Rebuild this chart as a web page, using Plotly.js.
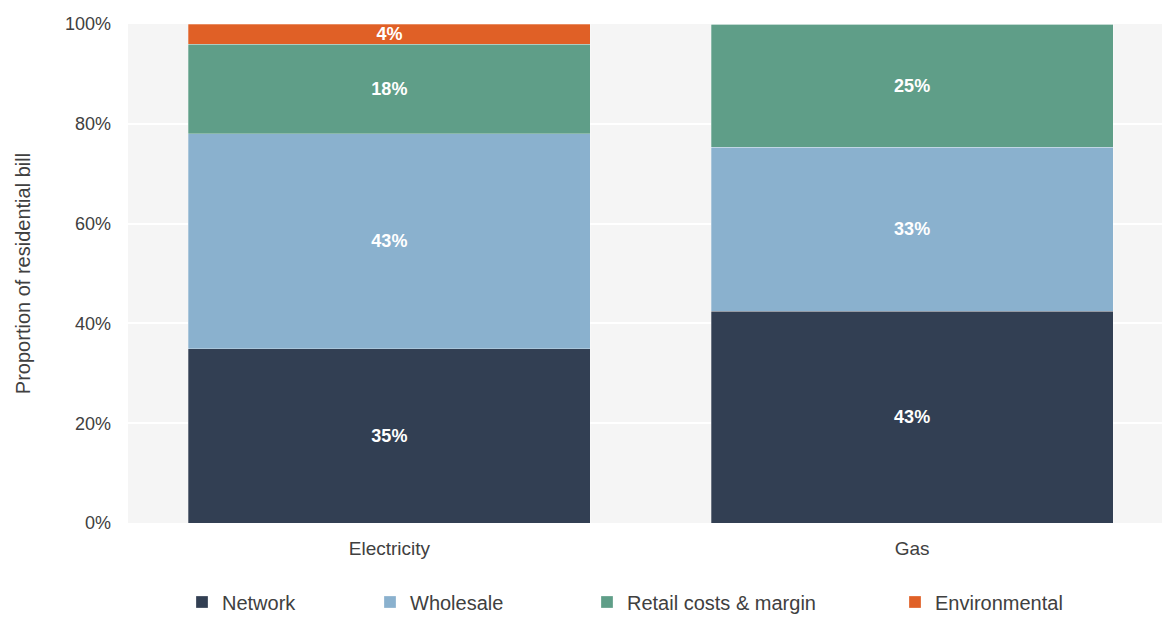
<!DOCTYPE html>
<html>
<head>
<meta charset="utf-8">
<script src="https://cdn.plot.ly/plotly-3.0.1.min.js"></script>
<style>
  html, body { margin: 0; padding: 0; background: #ffffff; overflow: hidden; }
  #chart { width: 1162px; height: 617px; }
</style>
</head>
<body>
<div id="chart"></div>
<script>
// ---- Data ----
var categories = ["Electricity", "Gas"];
var seriesNames = ["Network", "Wholesale", "Retail costs & margin", "Environmental"];
var network = [34.9, 42.4];
var wholesale = [43.1, 32.9];
var retail = [17.9, 24.7];
var environmental = [4.1, 0];
var networkLabels = ["35%", "43%"];
var wholesaleLabels = ["43%", "33%"];
var retailLabels = ["18%", "25%"];
var environmentalLabels = ["4%", ""];
var yTickVals = [0, 20, 40, 60, 80, 100];
var yTickText = ["0%", "20%", "40%", "60%", "80%", "100%"];

var colors = ["#323f53", "#8ab1ce", "#5f9e88", "#e06026"];
var seriesValues = [network, wholesale, retail, environmental];
var seriesLabels = [networkLabels, wholesaleLabels, retailLabels, environmentalLabels];
var legendIds = ["legend", "legend2", "legend3", "legend4"];

var FONT = "Liberation Sans, Arial, sans-serif";

var traces = seriesNames.map(function (name, i) {
  return {
    type: "bar",
    name: name,
    x: categories,
    y: seriesValues[i],
    text: seriesLabels[i],
    textposition: "inside",
    insidetextanchor: "middle",
    constraintext: "none",
    textfont: { family: FONT, size: 18, color: "#ffffff", weight: "bold" },
    marker: { color: colors[i], line: { color: "rgba(255,255,255,0.35)", width: 0.8 } },
    hoverinfo: "name+y",
    legend: legendIds[i]
  };
});

// plot area spans pixels 128..1162 horizontally, 24..523 vertically
function px2paperX(px) { return (px - 128) / 1034; }
function px2paperY(py) { return (523 - py) / 499; }
var legendLefts = [182, 370, 587, 895];
var legendCenterY = 602;

var layout = {
  width: 1162,
  height: 617,
  margin: { l: 128, r: 0, t: 24, b: 94, pad: 0, autoexpand: false },
  paper_bgcolor: "#ffffff",
  plot_bgcolor: "#f5f5f5",
  barmode: "stack",
  bargap: 0.231,
  font: { family: FONT, size: 18, color: "#404040" },
  showlegend: true,
  xaxis: {
    type: "category",
    range: [-0.5, 1.478],
    showgrid: false,
    zeroline: false,
    showline: false,
    ticks: "",
    automargin: false,
    ticklabelstandoff: 12,
    tickfont: { family: FONT, size: 19, color: "#404040" }
  },
  yaxis: {
    range: [0, 100],
    tickvals: yTickVals,
    ticktext: yTickText,
    showgrid: true,
    gridcolor: "#ffffff",
    gridwidth: 2,
    zeroline: false,
    showline: false,
    ticks: "",
    ticklabelstandoff: 16,
    tickfont: { family: FONT, size: 18, color: "#404040" },
    title: {
      text: "Proportion of residential bill",
      font: { family: FONT, size: 20, color: "#404040" },
      standoff: 28
    },
    automargin: false
  }
};

legendIds.forEach(function (id, i) {
  layout[id] = {
    orientation: "h",
    x: px2paperX(legendLefts[i]),
    xanchor: "left",
    y: px2paperY(legendCenterY),
    yanchor: "middle",
    bgcolor: "rgba(0,0,0,0)",
    borderwidth: 0,
    font: { family: FONT, size: 20, color: "#404040" },
    itemclick: false,
    itemdoubleclick: false
  };
});

Plotly.newPlot("chart", traces, layout, { displayModeBar: false, responsive: false, staticPlot: true });
</script>
</body>
</html>
